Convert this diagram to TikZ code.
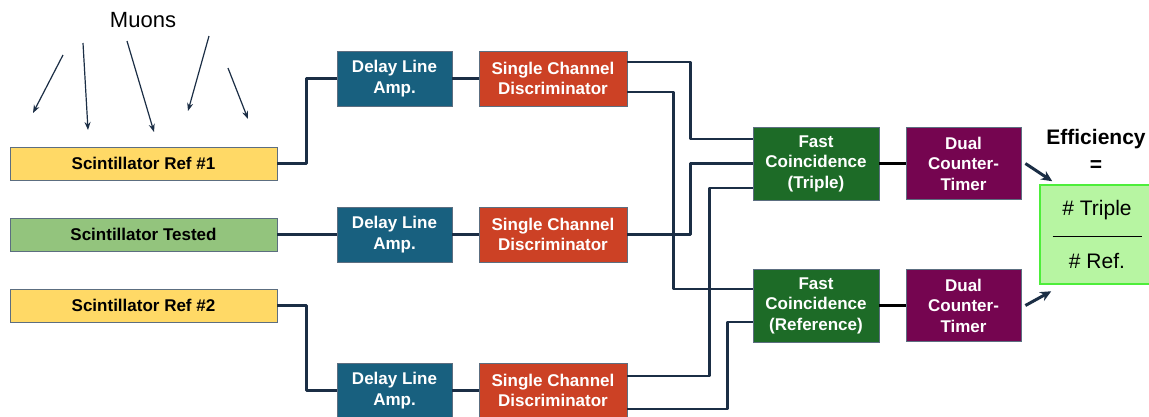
\documentclass[tikz,border=0pt]{standalone}
\usepackage{fontspec}
\setmainfont{Liberation Sans}
\usepackage{tikz}
\usetikzlibrary{arrows.meta,positioning}
\definecolor{scintyellow}{HTML}{FFD966}
\definecolor{scintgreen}{HTML}{93C47D}
\definecolor{delayblue}{HTML}{18607F}
\definecolor{discred}{HTML}{CC4125}
\definecolor{coincgreen}{HTML}{1D6B27}
\definecolor{countpurple}{HTML}{750550}
\definecolor{wirenavy}{HTML}{1B2E45}
\definecolor{rim}{HTML}{5C6E80}
\definecolor{effgreen}{HTML}{B7F5A2}
\definecolor{effrim}{HTML}{4DEE3A}

\begin{document}
\begin{tikzpicture}[x=1pt,y=-1pt,
	box/.style={draw=rim,line width=0.8pt,minimum height=55pt,align=center,inner sep=0pt,
		font=\fontsize{17}{20.5}\selectfont\bfseries},
	scint/.style={box,text=black,minimum width=267pt,minimum height=33pt},
	delay/.style={box,fill=delayblue,text=white,minimum width=115pt},
	disc/.style={box,fill=discred,text=white,minimum width=148pt},
	coinc/.style={box,fill=coincgreen,text=white,minimum width=126pt,minimum height=73pt},
	counter/.style={box,fill=countpurple,text=white,minimum width=115pt,minimum height=72pt},
	wire/.style={draw=wirenavy,line width=2.8pt,line join=round},
	muon/.style={draw=wirenavy,line width=1.2pt,-{Stealth[length=8pt,width=6pt]}},
	result/.style={draw=wirenavy,line width=3pt,-{Stealth[length=11pt,width=10pt]}}]
		\path[use as bounding box,fill=white] (0,0) rectangle (1149,416);
		
		% muons coming in
		\node[font=\fontsize{22}{26}\selectfont] (muons) at (143,20) {Muons};
		\foreach \sx/\sy/\ex/\ey in {63/55/33/113, 83/43/88/130, 127/41/154/132, 209/36/188/111, 228/68/248/119}
			\draw[muon] (\sx,\sy) -- (\ex,\ey);
		
		% scintillators
		\node[scint,fill=scintyellow] (sr1) at (143.5,163.5) {Scintillator Ref \#1};
		\node[scint,fill=scintgreen] (st) at (143.5,234.5) {Scintillator Tested};
		\node[scint,fill=scintyellow] (sr2) at (143.5,305.5) {Scintillator Ref \#2};
		
		% amplifiers and discriminators
		\node[delay] (dl1) at (394.5,78.5) {Delay Line\\Amp.};
		\node[disc] (scd1) at (553,78.5) {Single Channel\\Discriminator};
		\node[delay] (dl2) at (394.5,234.5) {Delay Line\\Amp.};
		\node[disc] (scd2) at (553,234.5) {Single Channel\\Discriminator};
		\node[delay] (dl3) at (394.5,390.5) {Delay Line\\Amp.};
		\node[disc] (scd3) at (553,390.5) {Single Channel\\Discriminator};
		
		% coincidence and counters
		\node[coinc] (fc1) at (816,163.5) {Fast\\Coincidence\\(Triple)};
		\node[coinc] (fc2) at (816,305.5) {Fast\\Coincidence\\(Reference)};
		\node[counter] (dct1) at (963.5,163.5) {Dual\\Counter-\\Timer};
		\node[counter] (dct2) at (963.5,305.5) {Dual\\Counter-\\Timer};
		
		% efficiency
		\node[font=\fontsize{21}{27}\selectfont\bfseries,align=center,inner sep=0pt] (efflabel) at (1096,150.3) {Efficiency\\=};
		\node[draw=effrim,fill=effgreen,line width=1.5pt,minimum width=114pt,minimum height=99pt,inner sep=0pt,align=center,
			font=\fontsize{21}{26.5}\selectfont] (eff) at (1097,234.5) {\# Triple\\\rule[5pt]{89pt}{1.2pt}\\\# Ref.};
		
		\draw[wire] (sr1.east) -- ++(29,0) |- (dl1.west);
		\draw[wire] (st.east) -- (dl2.west);
		\draw[wire] (sr2.east) -- ++(29,0) |- (dl3.west);
		\draw[wire] (dl1) -- (scd1);
		\draw[wire] (dl2) -- (scd2);
		\draw[wire] (dl3) -- (scd3);
		
		\draw[wire] ([yshift=16.5pt]scd1.east) -- ++(63,0) |- ([yshift=24.5pt]fc1.west);
		\draw[wire] ([yshift=-13.5pt]scd1.east) -- ++(46,0) |- ([yshift=16.5pt]fc2.west);
		\draw[wire] (scd2.east) -- ++(63,0) |- (fc1.west);
		\draw[wire] ([yshift=14.5pt]scd3.east) -- ++(82,0) |- ([yshift=-24.5pt]fc1.west);
		\draw[wire] ([yshift=-18.5pt]scd3.east) -- ++(100,0) |- ([yshift=-16.5pt]fc2.west);
		
		\draw[line width=2.8pt] (fc1) -- (dct1);
		\draw[line width=2.8pt] (fc2) -- (dct2);
		
		\draw[result] ([xshift=4pt]dct1.east) -- ([xshift=13pt,yshift=3pt]eff.north west);
		\draw[result] ([xshift=4pt]dct2.east) -- ([xshift=12pt,yshift=-6.5pt]eff.south west);
	\end{tikzpicture}
\end{document}
